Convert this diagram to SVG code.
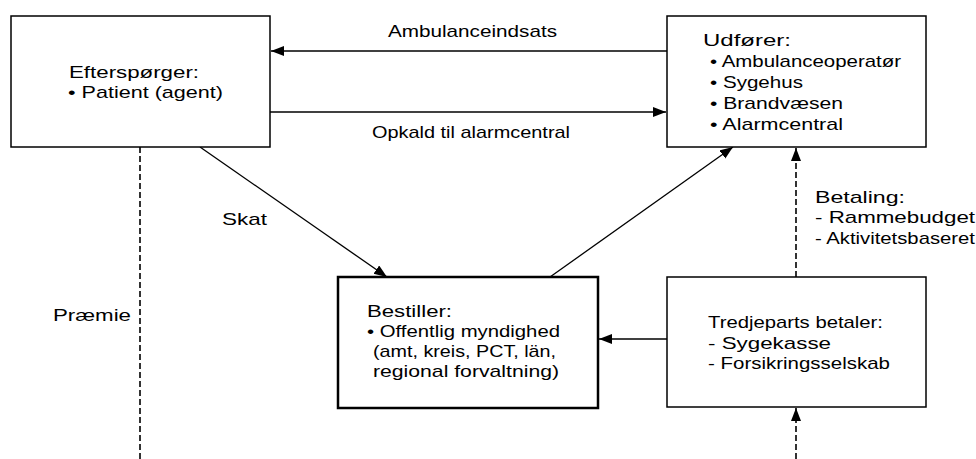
<svg xmlns="http://www.w3.org/2000/svg" width="976" height="459" viewBox="0 0 976 459">
<style>
text{font-family:"Liberation Sans",Arial,sans-serif;font-size:17px;fill:#000}
.box{fill:#fff;stroke:#000;stroke-width:1.5}
.thick{stroke-width:2.5}
.c{fill:none;stroke:#000;stroke-width:1.3}
.d{stroke-dasharray:6,3;stroke-width:1.6}
</style>
<defs>
<marker id="ah" markerUnits="userSpaceOnUse" markerWidth="14" markerHeight="11" refX="13" refY="5" orient="auto">
<path d="M0,0 L13,5 L0,10 z" fill="#000"/>
</marker>
</defs>
<rect width="976" height="459" fill="#fff"/>
<g id="connectors">
<line class="c" x1="667" y1="51" x2="271" y2="51" marker-end="url(#ah)"/>
<line class="c" x1="270" y1="112" x2="666" y2="112" marker-end="url(#ah)"/>
<line class="c" x1="200" y1="147" x2="387" y2="277" marker-end="url(#ah)"/>
<line class="c" x1="550" y1="277" x2="733" y2="147" marker-end="url(#ah)"/>
<line class="c d" x1="796" y1="277" x2="796" y2="148" marker-end="url(#ah)"/>
<line class="c" x1="667" y1="339" x2="599" y2="339" marker-end="url(#ah)"/>
<line class="c d" x1="796" y1="459" x2="796" y2="408" marker-end="url(#ah)"/>
<line class="c d" x1="140" y1="147" x2="140" y2="459"/>
<text x="388" y="37" textLength="169" lengthAdjust="spacingAndGlyphs">Ambulanceindsats</text>
<text x="372" y="138" textLength="198" lengthAdjust="spacingAndGlyphs">Opkald til alarmcentral</text>
<text x="222" y="225" textLength="45" lengthAdjust="spacingAndGlyphs">Skat</text>
<text x="53" y="321" textLength="78" lengthAdjust="spacingAndGlyphs">Præmie</text>
<text x="815" y="203" textLength="90" lengthAdjust="spacingAndGlyphs">Betaling:</text>
<text x="815" y="223" textLength="160" lengthAdjust="spacingAndGlyphs">- Rammebudget</text>
<text x="815" y="244" textLength="160" lengthAdjust="spacingAndGlyphs">- Aktivitetsbaseret</text>
</g>
<g id="efterspoerger">
<rect class="box" x="11" y="16" width="259" height="131"/>
<text x="69" y="78" textLength="130" lengthAdjust="spacingAndGlyphs">Efterspørger:</text>
<text x="68" y="98" textLength="155" lengthAdjust="spacingAndGlyphs">• Patient (agent)</text>
</g>
<g id="udfoerer">
<rect class="box" x="667" y="16" width="259" height="131"/>
<text x="703" y="46" textLength="88" lengthAdjust="spacingAndGlyphs">Udfører:</text>
<text x="710" y="67" textLength="191" lengthAdjust="spacingAndGlyphs">• Ambulanceoperatør</text>
<text x="710" y="88" textLength="93" lengthAdjust="spacingAndGlyphs">• Sygehus</text>
<text x="710" y="109" textLength="133" lengthAdjust="spacingAndGlyphs">• Brandvæsen</text>
<text x="710" y="130" textLength="133" lengthAdjust="spacingAndGlyphs">• Alarmcentral</text>
</g>
<g id="bestiller">
<rect class="box thick" x="338" y="277" width="260" height="131"/>
<text x="367" y="317" textLength="85" lengthAdjust="spacingAndGlyphs">Bestiller:</text>
<text x="367" y="337" textLength="193" lengthAdjust="spacingAndGlyphs">• Offentlig myndighed</text>
<text x="373" y="357" textLength="183" lengthAdjust="spacingAndGlyphs">(amt, kreis, PCT, län,</text>
<text x="373" y="377" textLength="186" lengthAdjust="spacingAndGlyphs">regional forvaltning)</text>
</g>
<g id="tredjeparts">
<rect class="box" x="667" y="277" width="259" height="130"/>
<text x="708" y="328" textLength="175" lengthAdjust="spacingAndGlyphs">Tredjeparts betaler:</text>
<text x="708" y="349" textLength="123" lengthAdjust="spacingAndGlyphs">- Sygekasse</text>
<text x="708" y="369" textLength="182" lengthAdjust="spacingAndGlyphs">- Forsikringsselskab</text>
</g>
</svg>
